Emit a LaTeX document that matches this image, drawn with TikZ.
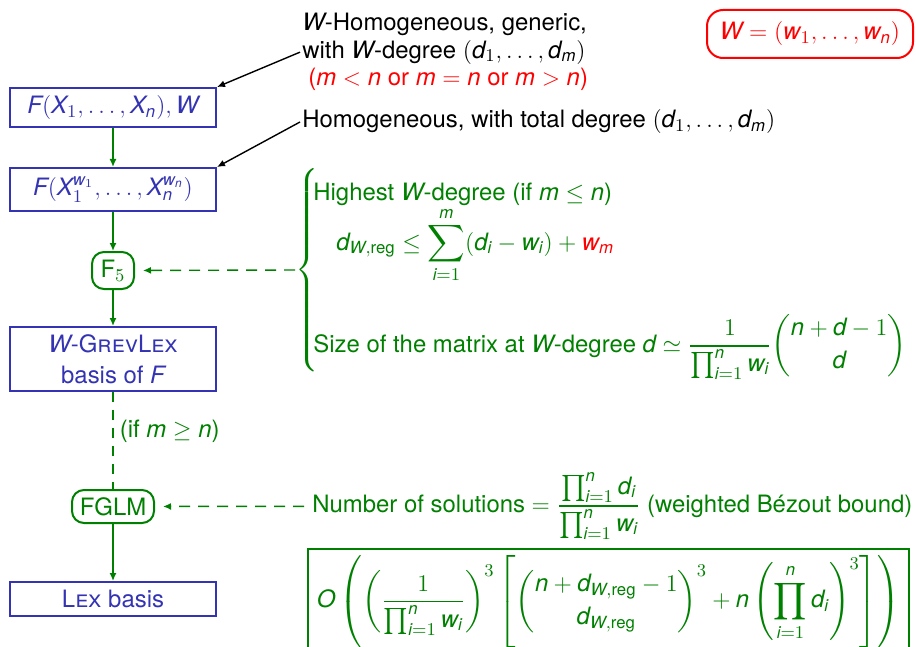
\documentclass[tikz,border=0pt]{standalone}
\usepackage{amsmath,amssymb}
\usepackage{fontspec}
\setmainfont{TeX Gyre Heros}[NFSSFamily=heros,Scale=0.92]
\DeclareSymbolFont{sfletters}{TU}{heros}{m}{it}
\DeclareSymbolFont{sfdigits}{TU}{heros}{m}{n}
\def\mathletters#1{\ifx#1\relax\else\DeclareMathSymbol{#1}{\mathalpha}{sfletters}{`#1}\expandafter\mathletters\fi}
\def\mathdigits#1{\ifx#1\relax\else\DeclareMathSymbol{#1}{\mathalpha}{sfdigits}{`#1}\expandafter\mathdigits\fi}
\mathletters abcdefghijklmnopqrstuvwxyzABCDEFGHIJKLMNOPQRSTUVWXYZ\relax
\mathdigits 0123456789\relax
\usetikzlibrary{arrows.meta,positioning}
\definecolor{boxblue}{RGB}{51,51,179}
\definecolor{darkgreen}{RGB}{0,128,0}

\begin{document}
\begin{tikzpicture}[x=0.5pt,y=-0.5pt,font=\fontsize{13}{13.75}\selectfont]
\tikzset{
  stepbox/.style={draw=boxblue,text=boxblue,line width=1pt,minimum width=103pt,inner sep=2pt,align=center},
  algo/.style={draw=darkgreen,text=darkgreen,line width=1pt,rounded corners=6pt,inner sep=2pt},
  flow/.style={-{Latex[length=4pt,width=3.5pt]},darkgreen,line width=0.7pt},
  hint/.style={flow,dash pattern=on 5.5pt off 4pt,shorten >=4pt},
  note/.style={-{Latex[length=4pt,width=3.5pt]},black,line width=0.7pt},
  remark/.style={inner sep=1pt,align=left},
  bound/.style={remark,anchor=base west,text=darkgreen}
}
\clip (0,0) rectangle (916,647);
\node[stepbox,minimum height=19.5pt] (n_input) at (113,107.5) {$F(X_1,\ldots,X_n),W$};
\node[stepbox,minimum height=21.5pt] (n_homog) at (113,189.5) {$F(X_1^{w_1},\ldots,X_n^{w_n})$};
\node[algo,minimum width=21pt,minimum height=18.5pt] (n_ffive) at (113,270.5) {F$_5$};
\node[stepbox,minimum height=32pt] (n_grevlex) at (113,359) {$W$-G\textsc{rev}L\textsc{ex}\\[2pt]basis of $F$};
\node[algo,minimum width=41pt,minimum height=16.5pt] (n_fglm) at (113,506.5) {FGLM};
\node[stepbox,minimum height=17pt] (n_lex) at (113,599) {L\textsc{ex} basis};
\node[draw=red,text=red,line width=1pt,rounded corners=8pt,minimum width=103pt,minimum height=24pt] (n_weights) at (810,34) {$W=(w_1,\ldots,w_n)$};
\node[remark,anchor=north west] (n_whomog) at (300,11) {$W$-Homogeneous, generic,\\with $W$-degree $(d_1,\ldots,d_m)$\\\hspace*{3pt}\textcolor{red}{($m<n$ or $m=n$ or $m>n$)}};
\node[remark,anchor=west] (n_total) at (300,122) {Homogeneous, with total degree $(d_1,\ldots,d_m)$};
\node[anchor=west,inner sep=0pt,text=darkgreen] (n_brace) at (295,270) {$\left\{\vcenter{\hbox{\vrule height 100pt width 0pt}}\right.$};
\node[bound] (n_highest) at (311,200) {Highest $W$-degree (if $m\le n$)};
\node[bound] (n_dreg) at (334,250) {$\displaystyle d_{W,\text{reg}}\le\sum_{i=1}^{m}(d_i-w_i)+\textcolor{red}{w_m}$};
\node[bound] (n_size) at (311,352) {Size of the matrix at $W$-degree $\displaystyle d\simeq\frac{1}{\prod_{i=1}^n w_i}\binom{n+d-1}{d}$};
\node[remark,anchor=west,text=darkgreen,inner xsep=4pt] (n_count) at (304,506) {Number of solutions $\displaystyle=\frac{\prod_{i=1}^n d_i}{\prod_{i=1}^n w_i}$ (weighted Bézout bound)};
\node[draw=darkgreen,text=darkgreen,line width=1pt,anchor=north west,minimum width=300.5pt,inner sep=3pt] (n_cost) at (307,548) {$\displaystyle O\left(\left(\frac{1}{\prod_{i=1}^n w_i}\right)^{3}\left[{\binom{n+d_{W,\text{reg}}-1}{d_{W,\text{reg}}}}^{3}+n\left(\prod_{i=1}^{n}d_i\right)^{3}\right]\right)$};
\draw[flow] (n_input) -- (n_homog);
\draw[flow] (n_homog) -- (n_ffive);
\draw[flow] (n_ffive) -- (n_grevlex);
\draw[darkgreen,line width=0.7pt,dash pattern=on 5pt off 4pt] (n_grevlex) -- node[pos=0.4,right,text=darkgreen] {(if $m\ge n$)} (n_fglm);
\draw[flow] (n_fglm) -- (n_lex);
\draw[hint] (n_brace.west) -- (n_ffive);
\draw[hint] (n_count) -- (n_fglm);
\draw[note] (n_whomog.west) -- (n_input.north east);
\draw[note] (n_total.west) -- (n_homog.north east);
\end{tikzpicture}
\end{document}
